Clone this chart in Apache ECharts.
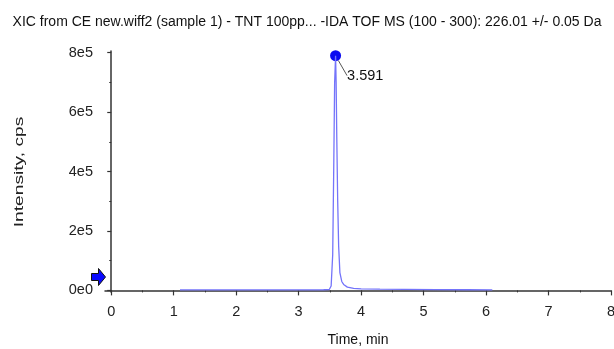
<!DOCTYPE html>
<html><head><meta charset="utf-8">
<script src="https://cdn.jsdelivr.net/npm/echarts@6/dist/echarts.min.js"></script>
<style>html,body{margin:0;padding:0;background:#fff}#c{width:614px;height:349px}</style>
</head><body><div id="c"></div>
<script>
const titleText = 'XIC from CE new.wiff2 (sample 1) - TNT 100pp... -IDA TOF MS (100 - 300): 226.01 +/- 0.05 Da';
const yAxisTitle = 'Intensity, cps';
const xAxisTitle = 'Time, min';
const timeMin = [1.1, 1.5, 2.0, 2.5, 3.0, 3.4, 3.49, 3.52, 3.545, 3.562, 3.576, 3.591, 3.60, 3.61, 3.625, 3.64, 3.66, 3.69, 3.72, 3.78, 3.88, 4.0, 4.3, 4.7, 5.2, 5.7, 6.1];
const intensity = [1500, 1500, 1600, 1700, 1800, 2200, 3000, 15000, 120000, 420000, 700000, 790000, 700000, 520000, 300000, 150000, 60000, 30000, 20000, 11000, 6500, 5000, 4000, 3200, 2600, 2200, 2000];
const peakTime = [3.591];
const peakValue = [790000];
const xTicks = [0, 1, 2, 3, 4, 5, 6, 7, 8];
const xMinorTicks = [0.5, 1.5, 2.5, 3.5, 4.5, 5.5, 6.5, 7.5];
const yTicks = [0, 200000, 400000, 600000, 800000];
const yMinorTicks = [100000, 300000, 500000, 700000];

const sans = '"Liberation Sans", Arial, sans-serif';
const chart = echarts.init(document.getElementById('c'));
const axCol = '#333';
function yFmt(v){ return v === 0 ? '0e0' : (v/100000) + 'e5'; }
const xRange = {min: -0.1, max: 8};
const yRange = {min: -5400, max: 805700};
chart.setOption({
  animation: false,
  title: {text: titleText, left: 'center', top: 10, textStyle: {fontFamily: sans, fontSize: 14, fontWeight: 'normal', color: '#111'}},
  grid: {left: 105, right: 3, top: 51, bottom: 57, containLabel: false, outerBoundsMode: 'none'},
  xAxis: [{
    type: 'value', ...xRange,
    name: xAxisTitle, nameLocation: 'middle', nameGap: 41,
    nameTextStyle: {fontFamily: sans, fontSize: 14, color: '#111'},
    axisLine: {lineStyle: {color: axCol, width: 1.5}},
    axisTick: {customValues: xTicks, length: 5, lineStyle: {color: axCol, width: 1.2}},
    axisLabel: {customValues: xTicks, fontFamily: sans, fontSize: 14.5, color: '#222', margin: 12},
    splitLine: {show: false}
  }, {
    type: 'value', ...xRange, position: 'bottom',
    axisLine: {show: false},
    axisTick: {customValues: xMinorTicks, length: 2, lineStyle: {color: axCol, width: 1}},
    axisLabel: {show: false}, splitLine: {show: false}
  }],
  yAxis: [{
    type: 'value', ...yRange,
    axisLine: {show: true, lineStyle: {color: axCol, width: 1.5}},
    axisTick: {show: true, customValues: yTicks, length: 4, lineStyle: {color: axCol, width: 1.2}},
    axisLabel: {customValues: yTicks, formatter: yFmt, fontFamily: sans, fontSize: 14.5, color: '#222', margin: 12},
    splitLine: {show: false}
  }, {
    type: 'value', ...yRange, position: 'left',
    axisLine: {show: false},
    axisTick: {show: true, customValues: yMinorTicks, length: 2, lineStyle: {color: axCol, width: 1}},
    axisLabel: {show: false}, splitLine: {show: false}
  }],
  series: [{
    type: 'line', xAxisIndex: 0, yAxisIndex: 0,
    data: timeMin.map((t, i) => [t, intensity[i]]),
    showSymbol: false, symbol: 'none',
    lineStyle: {color: '#7474fa', width: 1.3}
  }, {
    type: 'scatter', xAxisIndex: 0, yAxisIndex: 0,
    data: peakTime.map((t, i) => [t, peakValue[i]]),
    symbolSize: 11, itemStyle: {color: '#0b0bf0', opacity: 1},
    label: {show: true, formatter: p => p.value[0].toFixed(3), position: 'right', fontFamily: sans, fontSize: 14.5, color: '#111'},
    labelLayout: {dx: 1, dy: 20},
    labelLine: {show: true, length2: 0, lineStyle: {color: '#555', width: 1}}
  }],
  graphic: [{
    type: 'text', x: 20, y: 172, rotation: Math.PI / 2, scaleX: 1.6,
    style: {text: yAxisTitle, font: '12px ' + sans, fill: '#222', align: 'center', verticalAlign: 'middle'}
  }, {
    type: 'polygon', left: 91, top: 268,
    shape: {points: [[0, 5], [7, 5], [7, 0], [14, 8.5], [7, 17], [7, 12], [0, 12]]},
    style: {fill: '#0a0aff', stroke: '#111', lineWidth: 1}
  }]
});
</script></body></html>
